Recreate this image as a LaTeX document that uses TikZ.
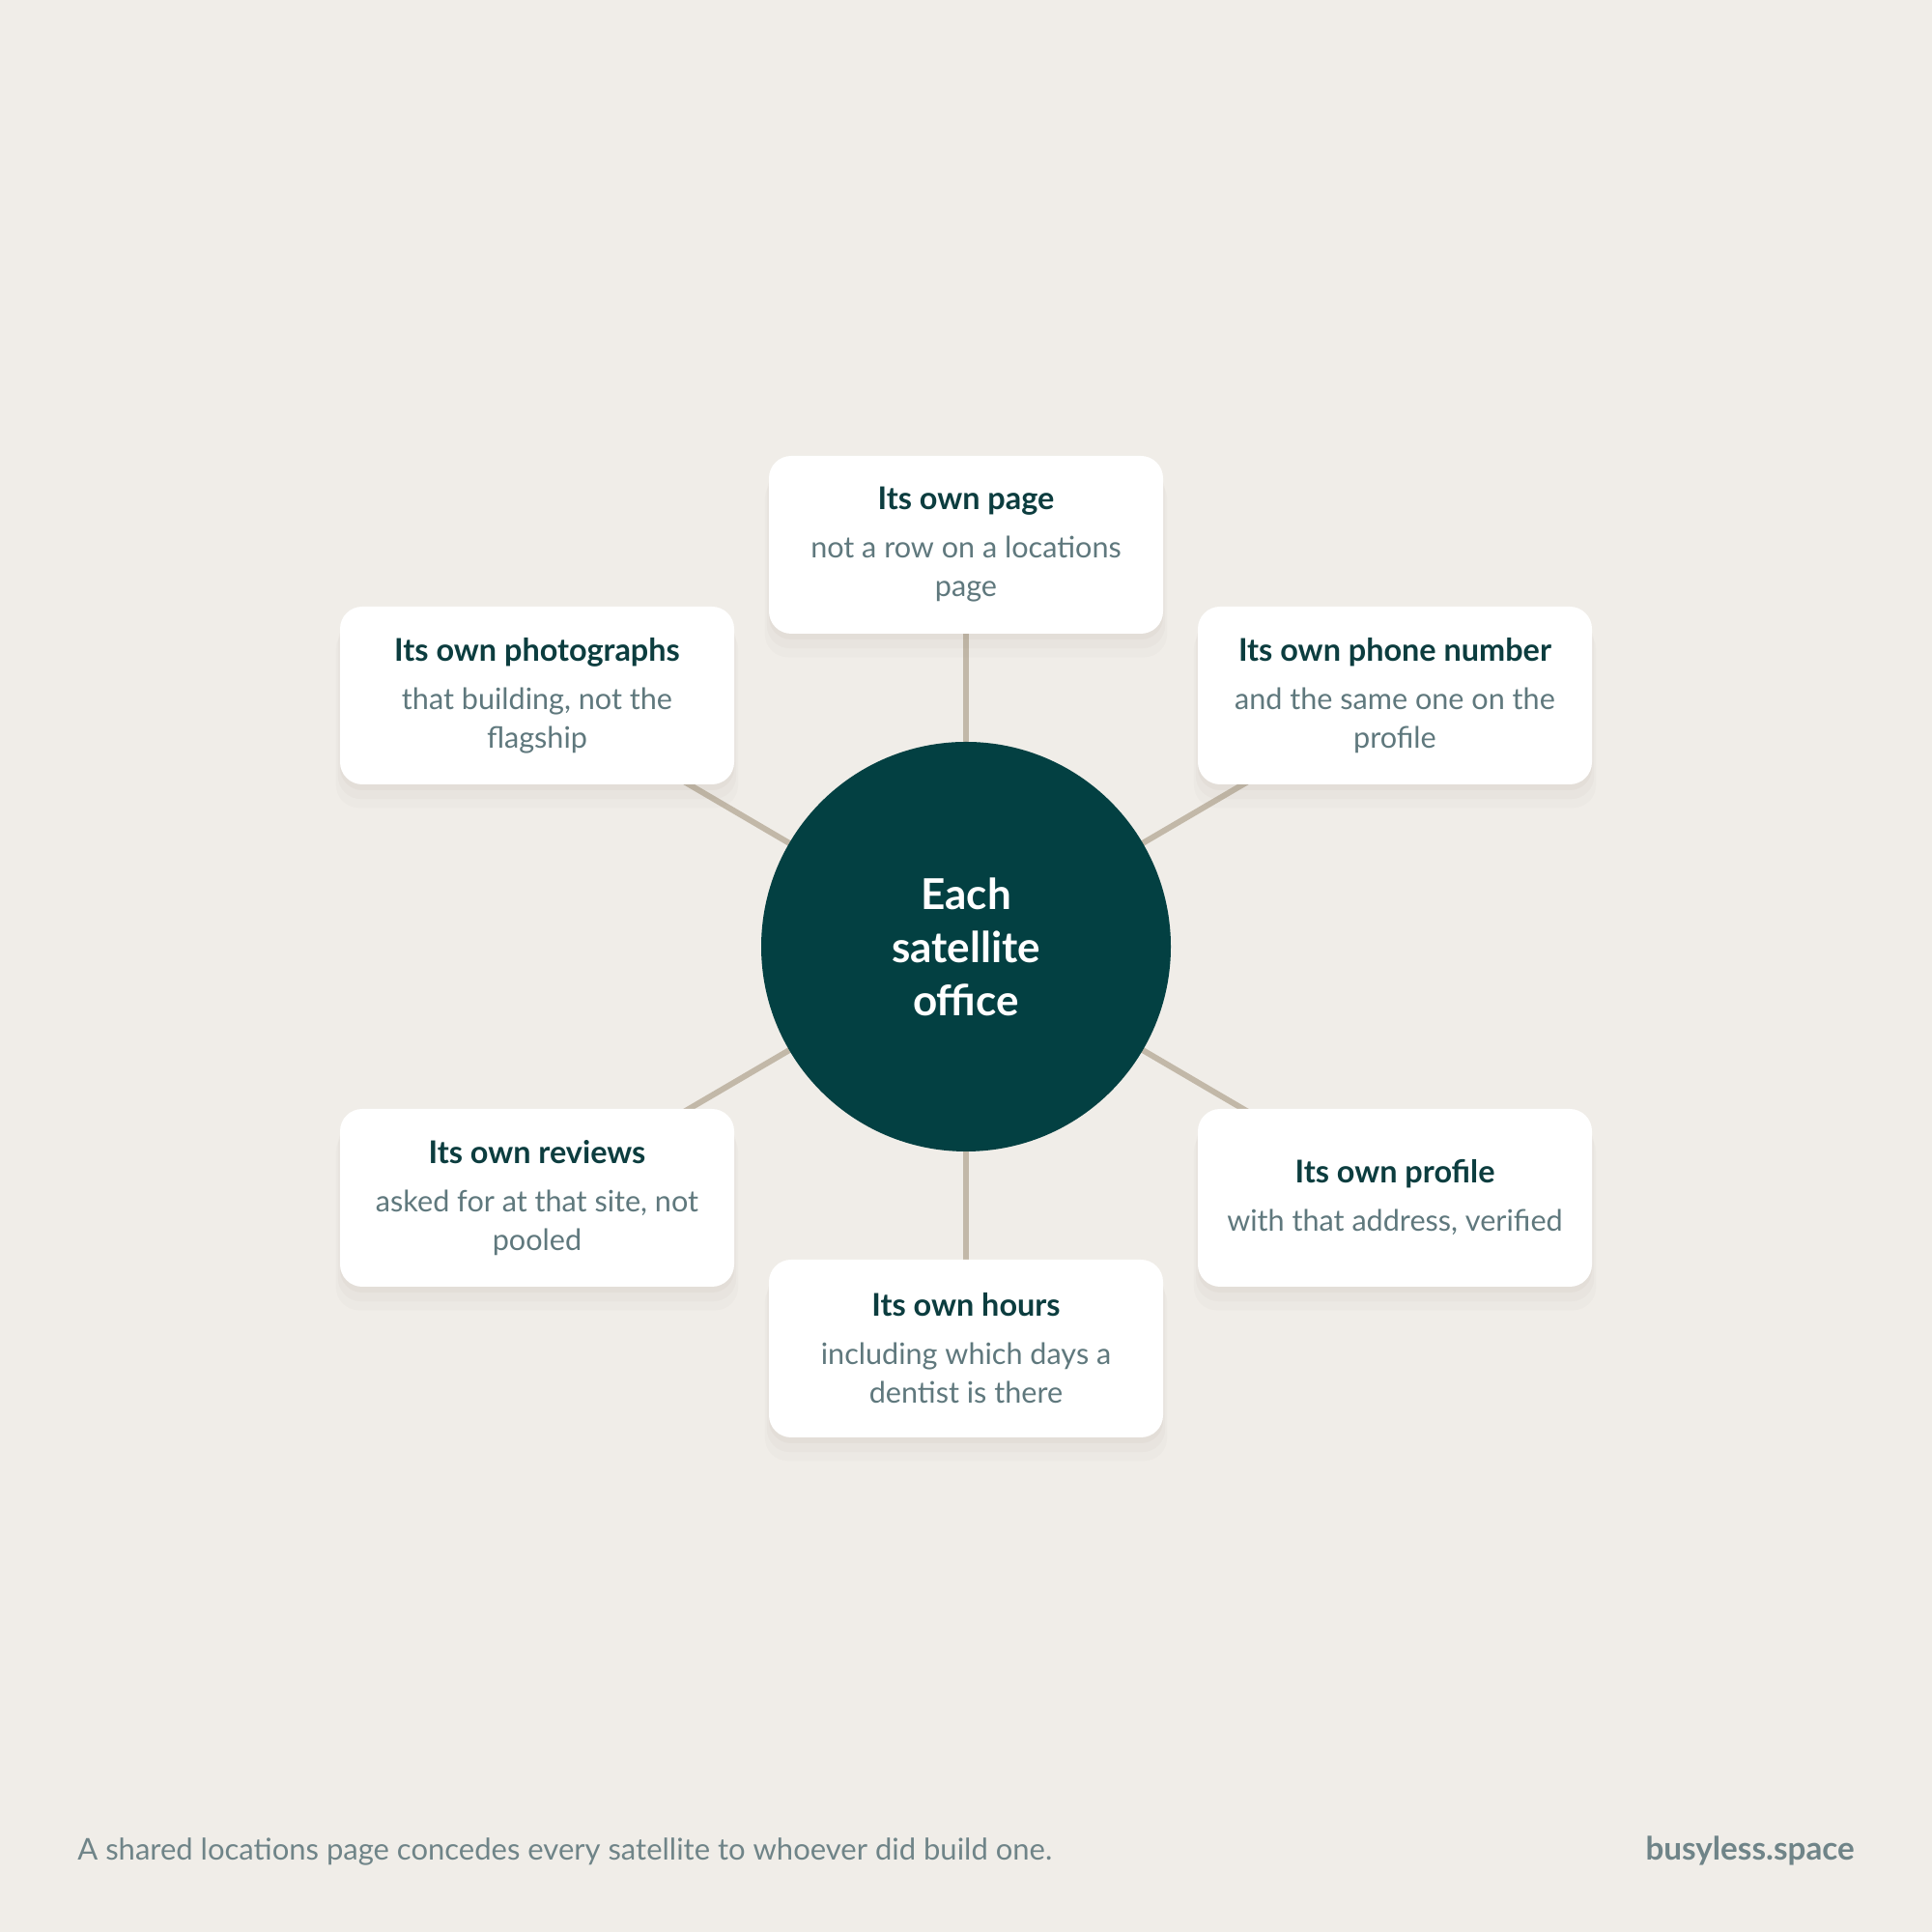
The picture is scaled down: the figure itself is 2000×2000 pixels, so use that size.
\documentclass[tikz,border=0pt]{standalone}
\usepackage{fontspec}
\setmainfont{Lato}
\usetikzlibrary{positioning, shadows, backgrounds}

\definecolor{paper}{HTML}{F0EDE8}
\definecolor{hubteal}{HTML}{034042}
\definecolor{headteal}{HTML}{0C3D3F}
\definecolor{bodygrey}{HTML}{5F787D}
\definecolor{spokebeige}{HTML}{C2B8A8}
\definecolor{footgrey}{HTML}{6F8488}
\definecolor{shadetone}{HTML}{8A7F70}

\pgfdeclarelayer{links}
\pgfsetlayers{background,links,main}

\tikzset{
    soft shade/.style={
        general shadow={shadow yshift=-3pt, shadow scale=1.00, fill=shadetone, opacity=.05},
        general shadow={shadow yshift=-7pt, shadow scale=1.01, fill=shadetone, opacity=.04},
        general shadow={shadow yshift=-11pt, shadow scale=1.02, fill=shadetone, opacity=.03}
    },
    card/.style={
        rectangle, rounded corners=11.5pt, fill=white,
        minimum width=204pt, minimum height=92pt, inner sep=0pt,
        align=center, text=bodygrey, font=\fontsize{15.3}{20}\selectfont,
        soft shade
    },
    hub/.style={
        circle, fill=hubteal, minimum size=212pt, inner sep=0pt,
        align=center, text=white, font=\fontsize{22}{27.5}\selectfont\bfseries
    },
    spoke/.style={draw=spokebeige, line width=3pt},
    footnote/.style={text=footgrey, font=\fontsize{15.5}{18}\selectfont, inner sep=0pt}
}
\newcommand{\cardtext}[2]{\textcolor{headteal}{\fontsize{16.2}{20}\selectfont\bfseries #1}\\[5pt]#2}

\begin{document}
\begin{tikzpicture}[x=0.5pt, y=0.5pt]
    \begin{scope}[on background layer]
    \fill[paper] (0,0) rectangle (2000,2000);
    \end{scope}
    % hub and its six cards
    \node[hub] (hub) at (1000,1020) {Each\\satellite\\office};
    \node[card] (page)   at (1000,1436) {\cardtext{Its own page}{not a row on a locations\\page}};
    \node[card] (photos) at (556,1280)  {\cardtext{Its own photographs}{that building, not the\\flagship}};
    \node[card] (phone)  at (1444,1280) {\cardtext{Its own phone number}{and the same one on the\\profile}};
    \node[card] (reviews) at (556,760)  {\cardtext{Its own reviews}{asked for at that site, not\\pooled}};
    \node[card] (profile) at (1444,760) {\cardtext{Its own profile}{with that address, verified}};
    \node[card] (hours)  at (1000,604)  {\cardtext{Its own hours}{including which days a\\dentist is there}};
    \begin{pgfonlayer}{links}
    \foreach \n in {page, photos, phone, reviews, profile, hours}
        \draw[spoke] (hub.center) -- (\n.center);
    \end{pgfonlayer}
    % footer
    \node[footnote, anchor=base west] (note) at (80,74) {A shared locations page concedes every satellite to whoever did build one.};
    \node[footnote, anchor=base east, font=\fontsize{16.6}{18}\selectfont\bfseries] (brand) at (1920,74) {busyless.space};
\end{tikzpicture}
\end{document}
